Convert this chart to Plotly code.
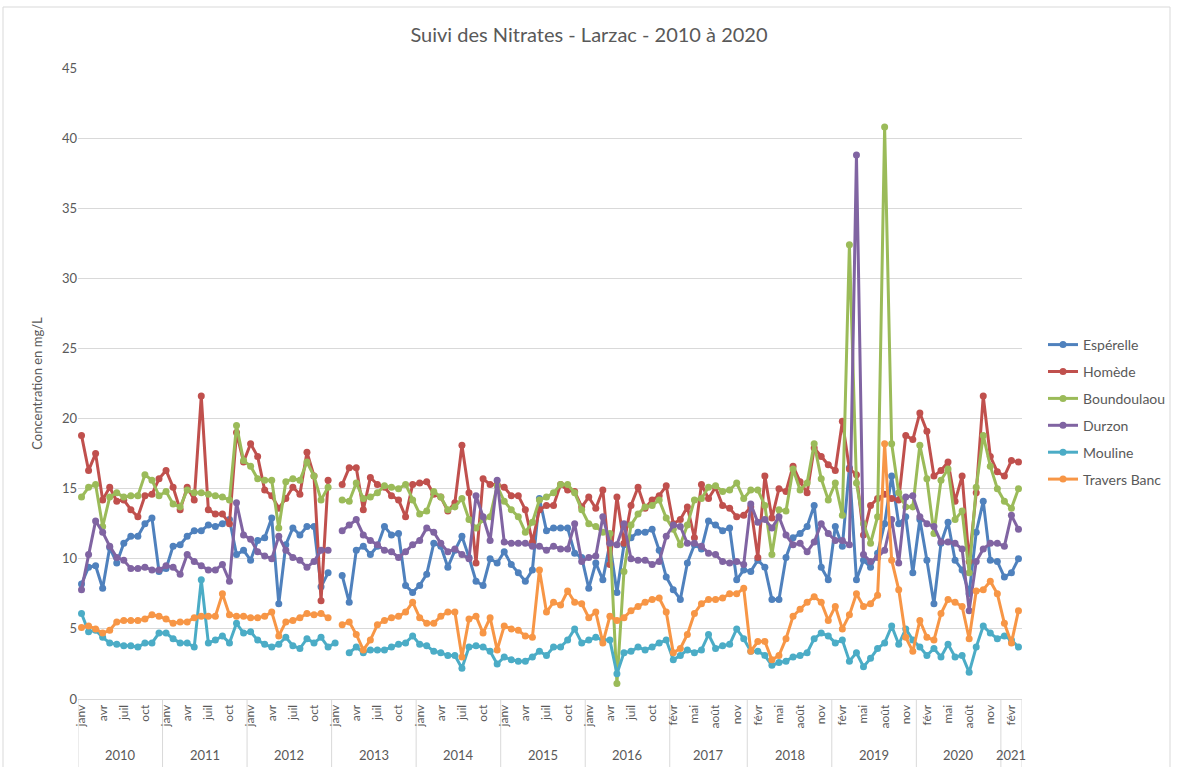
import plotly.graph_objects as go

MONTHS = ["janv", "févr", "mars", "avr", "mai", "juin", "juil", "août", "sept", "oct", "nov", "déc"]
YEARS = [2010, 2011, 2012, 2013, 2014, 2015, 2016, 2017, 2018, 2019, 2020, 2021]
# months present for each year (2017 starts in February, 2021 stops in March)
YEAR_MONTHS = {y: MONTHS for y in YEARS}
YEAR_MONTHS[2017] = MONTHS[1:]
YEAR_MONTHS[2021] = MONTHS[:3]

esperelle = [
    8.2, 9.4, 9.5, 7.9, 10.8, 9.7, 11.1, 11.6, 11.6, 12.5, 12.9, 9.1,          # 2010
    9.3, 10.9, 11.0, 11.6, 12.0, 12.0, 12.4, 12.3, 12.5, 12.8, 10.3, 10.6,     # 2011
    9.9, 11.3, 11.5, 12.9, 6.8, 11.0, 12.2, 11.7, 12.3, 12.3, 8.0, 9.0,        # 2012
    None, 8.8, 6.9, 10.6, 10.9, 10.3, 10.9, 12.3, 11.7, 11.8, 8.1, 7.6,        # 2013
    8.1, 8.9, 11.1, 10.9, 9.4, 10.6, 11.6, 10.1, 8.4, 8.1, 10.0, 9.7,          # 2014
    10.5, 9.6, 9.0, 8.4, 9.2, 14.3, 12.0, 12.2, 12.2, 12.2, 10.4, 10.1,        # 2015
    7.9, 9.7, 8.5, 11.1, 7.6, 11.0, 11.5, 11.9, 11.9, 12.1, 10.6, 8.7,         # 2016
    7.8, 7.1, 9.7, 11.0, 10.7, 12.7, 12.4, 12.0, 12.2, 8.5, 9.2,               # 2017
    9.1, 9.9, 9.4, 7.1, 7.1, 10.1, 11.5, 11.8, 12.3, 13.8, 9.4, 8.5,           # 2018
    12.3, 10.9, 16.5, 8.5, 9.9, 9.4, 10.4, 12.5, 15.9, 12.5, 13.0, 9.0,        # 2019
    12.8, 9.9, 6.8, 11.1, 12.6, 9.9, 9.2, 7.5, 11.9, 14.1, 9.9, 9.8,           # 2020
    8.7, 9.0, 10.0,                                                            # 2021
]
homede = [
    18.8, 16.3, 17.5, 14.2, 15.1, 14.1, 14.2, 13.5, 13.0, 14.5, 14.6, 15.7,
    16.3, 15.1, 13.5, 15.1, 14.2, 21.6, 13.5, 13.2, 13.2, 12.5, 19.0, 16.9,
    18.2, 17.3, 14.9, 14.5, 13.6, 14.3, 15.1, 14.6, 17.6, 15.9, 7.0, 15.6,
    None, 15.3, 16.5, 16.5, 13.5, 15.8, 15.3, 15.1, 14.5, 14.2, 13.0, 15.3,
    15.4, 15.5, 14.6, 14.4, 13.4, 14.0, 18.1, 14.7, 9.7, 15.7, 15.3, 15.3,
    15.1, 14.5, 14.5, 13.5, 11.2, 13.5, 13.8, 13.8, 15.3, 14.9, 14.8, 13.7,
    14.4, 13.6, 14.9, 9.6, 14.4, 11.1, 13.8, 15.1, 13.6, 14.2, 14.5, 15.2,
    12.5, 12.8, 13.7, 11.5, 15.3, 14.3, 15.1, 13.8, 13.6, 13.0, 13.1,
    13.7, 10.1, 15.9, 12.9, 15.0, 14.8, 16.6, 15.5, 14.7, 17.9, 17.3, 16.7,
    16.3, 19.8, 16.4, 16.0, 11.7, 13.8, 14.3, 14.6, 14.3, 14.2, 18.8, 18.5,
    20.4, 19.1, 15.9, 16.3, 16.9, 14.1, 15.9, 9.8, 14.7, 21.6, 17.3, 16.2,
    15.9, 17.0, 16.9,
]
boundoulaou = [
    14.4, 15.1, 15.3, 12.3, 14.4, 14.7, 14.4, 14.5, 14.5, 16.0, 15.6, 14.5,
    14.8, 13.9, 13.7, 14.9, 14.7, 14.7, 14.6, 14.5, 14.4, 14.2, 19.5, 17.0,
    16.6, 15.7, 15.6, 15.6, 12.2, 15.5, 15.7, 15.6, 16.9, 15.9, 14.2, 15.1,
    None, 14.2, 14.1, 15.4, 14.3, 14.4, 14.7, 15.2, 15.1, 15.0, 15.3, 14.2,
    13.2, 13.4, 14.8, 14.4, 13.5, 13.7, 14.3, 12.8, 12.2, 12.8, 13.0, 15.2,
    14.1, 13.5, 13.0, 11.9, 12.6, 14.2, 14.4, 14.7, 15.3, 15.3, 14.7, 13.5,
    12.5, 12.3, 11.9, 11.8, 1.1, 9.1, 12.4, 13.2, 13.7, 13.8, 14.2, 12.9,
    12.1, 11.0, 12.4, 14.2, 14.3, 15.1, 15.2, 14.8, 14.9, 15.4, 14.3,
    14.9, 14.9, 13.8, 10.3, 13.5, 13.4, 16.4, 14.9, 15.4, 18.2, 15.7, 14.2,
    15.4, 13.1, 32.4, 15.4, 12.5, 11.1, 13.0, 40.8, 18.2, 14.7, 13.7, 13.7,
    18.1, 15.7, 11.8, 15.6, 16.4, 12.8, 13.4, 9.0, 15.1, 18.8, 16.6, 15.0,
    14.1, 13.6, 15.0,
]
durzon = [
    7.8, 10.3, 12.7, 11.9, 10.9, 10.1, 9.9, 9.3, 9.3, 9.4, 9.2, 9.2,
    9.5, 9.4, 8.9, 10.3, 9.8, 9.5, 9.2, 9.2, 9.6, 8.4, 14.0, 11.7,
    11.4, 10.5, 10.2, 10.0, 11.6, 10.6, 10.1, 9.9, 9.4, 9.8, 10.6, 10.6,
    None, 12.0, 12.4, 12.8, 11.7, 11.3, 11.0, 10.6, 10.5, 10.1, 10.5, 11.0,
    11.3, 12.2, 11.9, 11.1, 10.5, 10.7, 10.3, 10.0, 14.5, 13.0, 11.3, 15.6,
    11.2, 11.1, 11.1, 11.1, 10.9, 10.9, 10.6, 10.9, 10.7, 10.7, 12.5, 9.8,
    10.1, 10.2, 13.0, 11.1, 11.0, 12.5, 10.0, 9.9, 9.9, 9.6, 9.8, 11.6,
    12.4, 12.3, 11.1, 11.1, 10.9, 10.4, 10.3, 9.8, 9.7, 9.8, 9.6,
    13.9, 12.6, 12.8, 12.2, 13.0, 11.7, 11.0, 11.1, 10.5, 11.2, 12.5, 11.8,
    11.3, 11.3, 11.0, 38.8, 10.3, 9.8, 10.1, 10.6, 12.8, 9.7, 14.4, 14.5,
    13.0, 12.5, 12.3, 11.2, 11.2, 11.1, 10.7, 6.3, 9.8, 10.7, 11.1, 11.1,
    10.9, 13.1, 12.1,
]
mouline = [
    6.1, 4.8, 4.9, 4.4, 4.0, 3.9, 3.8, 3.8, 3.7, 4.0, 4.0, 4.7,
    4.7, 4.3, 4.0, 4.0, 3.7, 8.5, 4.0, 4.2, 4.5, 4.0, 5.4, 4.7,
    4.8, 4.2, 3.9, 3.7, 3.9, 4.4, 3.8, 3.6, 4.3, 4.0, 4.4, 3.7,
    4.0, None, 3.3, 3.7, 3.3, 3.5, 3.5, 3.5, 3.7, 3.9, 4.0, 4.5,
    3.9, 3.8, 3.4, 3.3, 3.1, 3.1, 2.2, 3.7, 3.8, 3.7, 3.4, 2.5,
    3.0, 2.8, 2.7, 2.7, 3.0, 3.4, 3.1, 3.7, 3.7, 4.2, 5.0, 4.0,
    4.2, 4.4, 4.2, 4.2, 1.8, 3.3, 3.4, 3.7, 3.5, 3.7, 4.0, 4.2,
    2.8, 3.1, 3.5, 3.3, 3.5, 4.6, 3.6, 3.8, 3.9, 5.0, 4.3,
    3.4, 3.4, 3.1, 2.4, 2.6, 2.7, 3.0, 3.1, 3.3, 4.3, 4.7, 4.5,
    4.0, 4.2, 2.7, 3.3, 2.3, 2.9, 3.6, 4.0, 5.2, 3.9, 5.0, 4.2,
    3.7, 3.1, 3.6, 3.0, 3.9, 3.0, 3.1, 1.9, 3.7, 5.2, 4.7, 4.3,
    4.5, 4.2, 3.7,
]
travers_banc = [
    5.1, 5.2, 5.0, 4.7, 4.9, 5.5, 5.6, 5.6, 5.6, 5.7, 6.0, 5.9,
    5.7, 5.4, 5.5, 5.5, 5.8, 5.9, 5.9, 5.9, 7.5, 6.0, 5.9, 5.9,
    5.8, 5.8, 5.9, 6.2, 4.5, 5.5, 5.6, 5.8, 6.1, 6.0, 6.1, 5.8,
    None, 5.3, 5.5, 4.6, 3.5, 4.2, 5.3, 5.6, 5.8, 5.9, 6.2, 6.9,
    5.8, 5.4, 5.4, 5.9, 6.2, 6.2, 3.0, 5.7, 5.9, 4.7, 5.8, 3.5,
    5.2, 5.0, 4.9, 4.5, 4.4, 9.2, 6.2, 6.9, 6.7, 7.7, 6.9, 6.8,
    5.8, 6.2, 4.0, 5.9, 5.6, 5.8, 6.3, 6.6, 6.9, 7.1, 7.2, 6.2,
    3.3, 3.6, 4.6, 6.1, 6.8, 7.1, 7.1, 7.2, 7.5, 7.5, 7.9,
    3.4, 4.1, 4.1, 2.8, 3.1, 4.3, 5.9, 6.4, 6.9, 7.3, 6.9, 5.6,
    6.6, 5.0, 6.0, 7.5, 6.6, 6.8, 7.4, 18.2, 9.9, 7.8, 4.4, 3.4,
    5.6, 4.4, 4.2, 6.1, 7.1, 6.9, 6.6, 4.3, 7.7, 7.8, 8.4, 7.5,
    5.4, 4.0, 6.3,
]

SERIES = [
    ("Espérelle", esperelle, "#4F81BD"),
    ("Homède", homede, "#C0504D"),
    ("Boundoulaou", boundoulaou, "#9BBB59"),
    ("Durzon", durzon, "#8064A2"),
    ("Mouline", mouline, "#4BACC6"),
    ("Travers Banc", travers_banc, "#F79646"),
]

TITLE = "Suivi des Nitrates - Larzac - 2010 à 2020"
Y_TITLE = "Concentration en mg/L"

# ---- category axis (year, month) ----
cat_year, cat_month = [], []
for y in YEARS:
    for m in YEAR_MONTHS[y]:
        cat_year.append(y)
        cat_month.append(m)
n = len(cat_month)
x = list(range(n))
for _, vals, _ in SERIES:
    assert len(vals) == n, (len(vals), n)

FONT = "Lato"
GRAY = "#595959"
GRID = "#d9d9d9"

W, H = 1178, 767
L, R, T, B = 78, 156, 68, 68
plot_w = W - L - R
plot_h = H - T - B

fig = go.Figure()
for i, (name, vals, col) in enumerate(SERIES):
    fig.add_trace(go.Scatter(
        x=x, y=vals, name=name, mode="lines+markers",
        line=dict(color=col, width=3),
        marker=dict(color=col, size=7),
        connectgaps=False, legendgroup=f"g{i}",
    ))

tickvals = x[::3]
ticktext = [cat_month[i] for i in tickvals]


def py(px_below_axis):
    return -px_below_axis / plot_h


shapes = []
annotations = []
start = 0
bounds = [-0.5]
for y in YEARS:
    cnt = len(YEAR_MONTHS[y])
    annotations.append(dict(
        x=start + (cnt - 1) / 2, y=py(56), xref="x", yref="paper",
        text=str(y), showarrow=False, font=dict(family=FONT, size=13, color=GRAY),
        xanchor="center", yanchor="middle",
    ))
    start += cnt
    bounds.append(start - 0.5)
for b in bounds:
    shapes.append(dict(type="line", xref="x", yref="paper", x0=b, x1=b,
                       y0=0, y1=py(70), line=dict(color=GRID, width=1), layer="below"))
# chart border
shapes.append(dict(type="rect", xref="paper", yref="paper",
                   x0=(3 - L) / plot_w, x1=(1170 - L) / plot_w,
                   y0=py(80), y1=1 + (T - 7) / plot_h,
                   line=dict(color=GRID, width=1), fillcolor="rgba(0,0,0,0)"))

fig.update_layout(
    width=W, height=H,
    margin=dict(l=L, r=R, t=T, b=B, autoexpand=False),
    paper_bgcolor="white", plot_bgcolor="white",
    font=dict(family=FONT, size=13, color=GRAY),
    title=dict(text=TITLE, x=0.5, xref="container", xanchor="center",
               y=1 - 35 / H, yref="container", yanchor="middle",
               font=dict(family=FONT, size=20, color=GRAY)),
    xaxis=dict(range=[-0.5, n - 0.5], tickmode="array", tickvals=tickvals, ticktext=ticktext,
               tickangle=-90, showgrid=False, zeroline=False, showline=True,
               linecolor=GRID, linewidth=1, ticks="",
               tickfont=dict(family=FONT, size=12, color=GRAY)),
    yaxis=dict(range=[0, 45], dtick=5, showgrid=True, gridcolor=GRID, gridwidth=1,
               zeroline=False, showline=False, ticks="",
               tickfont=dict(family=FONT, size=13, color=GRAY),
               title=dict(text=Y_TITLE, font=dict(family=FONT, size=13, color=GRAY), standoff=16)),
    legend=dict(x=(1043 - L) / plot_w, y=1 - (329 - T) / plot_h, xanchor="left", yanchor="top",
                font=dict(family=FONT, size=14, color=GRAY), tracegroupgap=5.7,
                bgcolor="rgba(0,0,0,0)"),
    shapes=shapes, annotations=annotations,
    showlegend=True,
)

fig.write_html("out.html", config={"displayModeBar": False},
               post_script="document.body.style.margin='0px';")
